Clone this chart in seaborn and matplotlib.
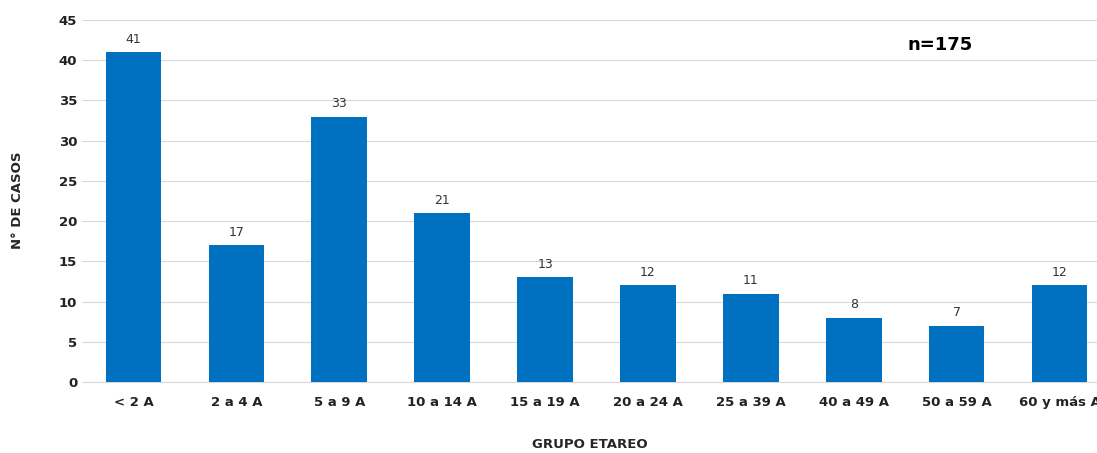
import matplotlib.pyplot as plt
import seaborn as sns
import pandas as pd

grupos = ["< 2 A", "2 a 4 A", "5 a 9 A", "10 a 14 A", "15 a 19 A", "20 a 24 A",
          "25 a 39 A", "40 a 49 A", "50 a 59 A", "60 y más A"]
casos = [41, 17, 33, 21, 13, 12, 11, 8, 7, 12]

df = pd.DataFrame({"grupo": grupos, "casos": casos})

sns.set_style("white")
plt.rcParams['font.family'] = ['DejaVu Sans']

fig = plt.figure(figsize=(10.97, 4.53), dpi=100)
ax = fig.add_axes([82 / 1097, 71 / 453, 1029 / 1097, 362 / 453])

sns.barplot(data=df, x="grupo", y="casos", color="#0070C0", width=0.54,
            saturation=1, linewidth=0, ax=ax, zorder=3)

for i, v in enumerate(casos):
    ax.text(i, v + 0.8, str(v), ha="center", va="bottom", fontsize=9, color="#333333")

ax.set_ylim(0, 45)
ax.set_yticks(range(0, 46, 5))
ax.yaxis.grid(True, color="#d9d9d9", linewidth=0.8, zorder=0)
ax.set_xlim(-0.5, 9.5)
for s in ["top", "right", "left"]:
    ax.spines[s].set_visible(False)
ax.spines["bottom"].set_color("#d9d9d9")
ax.tick_params(length=0)
for lbl in ax.get_xticklabels() + ax.get_yticklabels():
    lbl.set_fontweight("bold")
    lbl.set_fontsize(9.5)
    lbl.set_color("#222222")
ax.tick_params(axis="x", pad=10)

ax.set_xlabel("")
ax.set_ylabel("")
fig.text(18 / 1097, 1 - 200 / 453, "N° DE CASOS", rotation=90, ha="center", va="center",
         fontweight="bold", fontsize=9.5)
fig.text(590 / 1097, 1 - 445 / 453, "GRUPO ETAREO", ha="center", va="center",
         fontweight="bold", fontsize=9.5)
fig.text(940 / 1097, 1 - 45 / 453, "n=175", ha="center", va="center",
         fontweight="bold", fontsize=13, color="black")

fig.savefig("out.png", dpi=100)
